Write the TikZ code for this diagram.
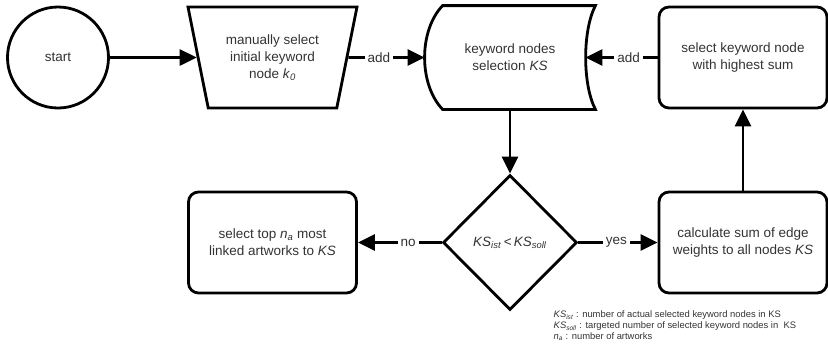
\documentclass[tikz,border=0pt]{standalone}
\usepackage{fontspec}
\setmainfont{Liberation Sans}
\usetikzlibrary{arrows.meta,shapes.geometric}
\NewDocumentCommand\ks{m}{\textit{KS}\textsubscript{\textit{#1}}}
\NewDocumentCommand\na{}{\textit{n}\textsubscript{\textit{a}}}

\begin{document}
\begin{tikzpicture}[x=1pt,y=1pt,line width=2.8pt,>={Triangle[length=17pt,width=16pt]},
    every node/.style={text=black!80,align=center,font=\fontsize{13.5}{17}\selectfont},
    box/.style={draw,rounded corners=10pt,minimum width=168,minimum height=101},
    lbl/.style={fill=white,inner sep=3pt}]
            \useasboundingbox (0,0) rectangle (828,-354);
            \node[draw,circle,minimum size=101] (S) at (58,-57.5) {start};
            \node[draw,trapezium,shape border rotate=180,trapezium stretches body,
                trapezium left angle=69,trapezium right angle=69,
                minimum width=169,minimum height=101] (M) at (272.5,-57.5) {manually select\\initial keyword\\node \textit{k}\textsubscript{\textit{0}}};
            \node[minimum width=168,minimum height=101] (K) at (510,-57.5) {keyword nodes\\selection \textit{KS}};
            \node[box] (H) at (743,-57.5) {select keyword node\\with highest sum};
            \node[draw,diamond,minimum width=134,minimum height=135] (D) at (510,-242.5) {\ks{ist}\,<\,\ks{soll}};
            \node[box] (L) at (272.5,-242.5) {select top \na{} most\\linked artworks to \textit{KS}};
            \node[box] (C) at (743,-242.5) {calculate sum of edge\\weights to all nodes \textit{KS}};
            % stored data outline
            \draw ([xshift=18pt]K.north west) -- (K.north east)
                .. controls +(-13,-25) and +(-13,25) .. (K.south east)
                -- ([xshift=18pt]K.south west)
                .. controls +(-24,25) and +(-24,-25) .. cycle;
            \draw[->] (S) -- (M);
            \draw[->] (M) --node[lbl,pos=.4]{add} (K);
            \draw[->] (H) --node[lbl,pos=.4]{add} ([xshift=-10pt]K.east);
            \draw[->] (K) -- (D);
            \draw[->] (D) --node[lbl,pos=.4]{no} (L);
            \draw[->] (D) --node[lbl,pos=.48]{yes} (C);
            \draw[->] (C) -- (H);
            \node[anchor=north west,align=left,font=\fontsize{9.4}{11}\selectfont] (N) at (549,-306)
                {\ks{ist} : number of actual selected keyword nodes in KS\\
                 \ks{soll} : targeted number of selected keyword nodes in~ KS\\
                 \na{} : number of artworks};
        \end{tikzpicture}
\end{document}
